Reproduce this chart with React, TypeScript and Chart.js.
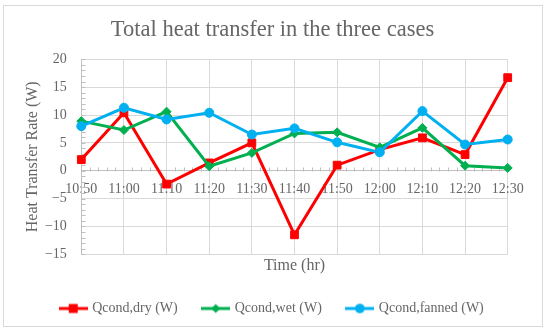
import React, { useEffect, useRef } from 'react';
import { Chart, registerables } from 'chart.js';

Chart.register(...registerables);

// ---- data ----
const times = ['10:50', '11:00', '11:10', '11:20', '11:30', '11:40', '11:50', '12:00', '12:10', '12:20', '12:30'];
const qDry = [2.0, 10.4, -2.4, 1.4, 5.0, -11.5, 1.0, 3.8, 5.9, 2.9, 16.7];
const qWet = [8.9, 7.3, 10.6, 0.8, 3.2, 6.7, 6.9, 4.2, 7.7, 0.9, 0.5];
const qFanned = [8.0, 11.3, 9.2, 10.4, 6.5, 7.6, 5.1, 3.3, 10.7, 4.7, 5.6];
const seriesNames = ['Qcond,dry (W)', 'Qcond,wet (W)', 'Qcond,fanned (W)'];
const yMin = -15;
const yMax = 20;
const yStep = 5;

const chartTitle = 'Total heat transfer in the three cases';
const xTitle = 'Time (hr)';
const yTitle = 'Heat Transfer Rate (W)';

// ---- style ----
const FONT = "'Liberation Serif', 'Times New Roman', serif";
const TEXT = '#666666';
const GRID = '#d9d9d9';
const AXIS = '#bfbfbf';
const colors = ['#FF0000', '#00B050', '#00B0F0'];
const markers = ['rect', 'rectRot', 'circle'];
const markerRadius = [5.5, 4.5, 4.5];

function makeSymbol(color: string, style: string): HTMLCanvasElement {
  const c = document.createElement('canvas');
  c.width = 29;
  c.height = 12;
  const ctx = c.getContext('2d')!;
  ctx.strokeStyle = color;
  ctx.lineWidth = 3;
  ctx.beginPath();
  ctx.moveTo(0, 6);
  ctx.lineTo(29, 6);
  ctx.stroke();
  ctx.fillStyle = color;
  ctx.beginPath();
  if (style === 'rect') {
    ctx.rect(10, 1.5, 9, 9);
  } else if (style === 'rectRot') {
    ctx.moveTo(14.5, 1.5);
    ctx.lineTo(19, 6);
    ctx.lineTo(14.5, 10.5);
    ctx.lineTo(10, 6);
    ctx.closePath();
  } else {
    ctx.arc(14.5, 6, 4.8, 0, Math.PI * 2);
  }
  ctx.fill();
  return c;
}

const minorTicks = {
  id: 'minorTicks',
  beforeDatasetsDraw(chart: any) {
    const { ctx, chartArea, scales } = chart;
    const x = scales.x;
    const y = scales.y;
    ctx.save();
    ctx.strokeStyle = AXIS;
    ctx.lineWidth = 1;
    ctx.beginPath();
    const lx = Math.round(chartArea.left) + 0.5;
    for (let v = yMin; v <= yMax; v += 1) {
      const py = Math.round(y.getPixelForValue(v)) + 0.5;
      ctx.moveTo(lx, py);
      ctx.lineTo(lx + 4, py);
    }
    const y0 = Math.round(y.getPixelForValue(0)) + 0.5;
    for (let i = 0; i < times.length - 1; i++) {
      const a = x.getPixelForValue(i);
      const b = x.getPixelForValue(i + 1);
      for (let k = 1; k < 5; k++) {
        const px = Math.round(a + ((b - a) * k) / 5) + 0.5;
        ctx.moveTo(px, y0);
        ctx.lineTo(px, y0 - 4);
      }
    }
    ctx.stroke();
    ctx.restore();
  },
};

export default function App() {
  const ref = useRef<HTMLCanvasElement | null>(null);

  useEffect(() => {
    if (!ref.current) return;
    const symbols = colors.map((c, i) => makeSymbol(c, markers[i]));
    const series = [qDry, qWet, qFanned];
    const chart = new Chart(ref.current, {
      type: 'line',
      data: {
        labels: times,
        datasets: series.map((d, i) => ({
          label: seriesNames[i],
          data: d,
          xAxisID: 'x',
          yAxisID: 'y',
          borderColor: colors[i],
          backgroundColor: colors[i],
          borderWidth: 3,
          pointStyle: markers[i] as any,
          pointRadius: markerRadius[i],
          pointBackgroundColor: colors[i],
          pointBorderColor: colors[i],
          pointBorderWidth: 1,
          tension: 0,
          fill: false,
          order: 3 - i,
        })),
      },
      options: {
        responsive: false,
        animation: false,
        devicePixelRatio: 1,
        layout: { padding: { left: 3, right: 8, top: 0, bottom: 6.5 } },
        scales: {
          x: {
            type: 'category',
            position: { y: 0 } as any,
            offset: false,
            grid: { color: GRID, drawTicks: false },
            border: { color: AXIS },
            ticks: {
              padding: 10,
              color: TEXT,
              font: { family: FONT, size: 14 },
              maxRotation: 0,
              autoSkip: false,
            },
          },
          x2: {
            type: 'category',
            position: 'bottom',
            grid: { display: false, drawTicks: false },
            border: { display: false },
            ticks: { display: false },
            title: {
              display: true,
              text: xTitle,
              color: TEXT,
              font: { family: FONT, size: 16 },
              padding: { top: 2, bottom: 0 },
            },
          },
          y: {
            type: 'linear',
            position: 'left',
            min: yMin,
            max: yMax,
            grid: { color: GRID, drawTicks: false },
            border: { color: AXIS },
            ticks: {
              stepSize: yStep,
              padding: 14.5,
              color: TEXT,
              font: { family: FONT, size: 14 },
              callback: (v: any) => (Number(v) < 0 ? '\u2212' + Math.abs(Number(v)) : String(v)),
            },
            title: {
              display: true,
              text: yTitle,
              color: TEXT,
              font: { family: FONT, size: 16 },
              padding: { top: 20, bottom: 0 },
            },
            afterFit: (s: any) => {
              s.width = 78.3;
            },
          },
          y2: {
            type: 'linear',
            position: 'right',
            grid: { display: false, drawTicks: false },
            border: { display: false },
            ticks: { display: false },
            afterFit: (s: any) => {
              s.width = 34.3;
            },
          },
        },
        plugins: {
          title: {
            display: true,
            text: chartTitle,
            color: TEXT,
            font: { family: FONT, size: 22.5, weight: 'normal' },
            padding: { top: 17, bottom: 15.3 },
          },
          legend: {
            position: 'bottom',
            labels: {
              usePointStyle: true,
              pointStyleWidth: 24,
              boxWidth: 24,
              boxHeight: 14,
              padding: 26,
              color: TEXT,
              font: { family: FONT, size: 14 },
              generateLabels: () =>
                seriesNames.map((n, i) => ({
                  text: n,
                  fillStyle: colors[i],
                  strokeStyle: colors[i],
                  lineWidth: 0,
                  pointStyle: symbols[i] as any,
                  hidden: false,
                  datasetIndex: i,
                  fontColor: TEXT,
                })),
            },
          },
          tooltip: { enabled: false },
        },
      },
      plugins: [minorTicks],
    });
    return () => chart.destroy();
  }, []);

  return (
    <div style={{ position: 'absolute', left: 0, top: 0, width: 550, height: 332, background: '#ffffff' }}>
      <div
        style={{
          position: 'absolute',
          left: 3,
          top: 5,
          width: 538,
          height: 320,
          border: '1px solid #d9d9d9',
        }}
      />
      <canvas
        ref={ref}
        width={550}
        height={332}
        style={{ position: 'absolute', left: 0, top: 0, width: 550, height: 332 }}
      />
    </div>
  );
}
